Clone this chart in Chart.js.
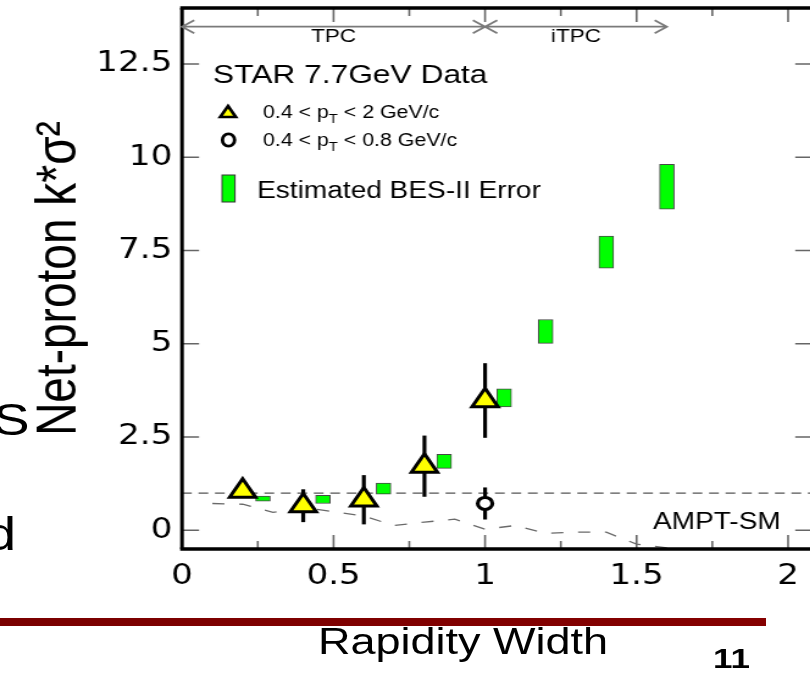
<!DOCTYPE html>
<html><head><meta charset="utf-8">
<script src="https://cdn.jsdelivr.net/npm/chart.js@4.4.1/dist/chart.umd.min.js"></script>
<style>
html,body{margin:0;padding:0;background:#fff;overflow:hidden;width:810px;height:673px;position:relative;}
#wrap{position:absolute;left:0;top:0;width:690px;height:673px;transform:scaleX(1.22);transform-origin:0 0;}
canvas{display:block;}
.slide{position:absolute;font-family:"Liberation Sans",Arial,sans-serif;color:#000;white-space:nowrap;transform-origin:0 0;}
</style></head><body>
<div id="wrap"><canvas id="c" width="690" height="673" style="width:690px;height:673px"></canvas></div>
<div id="redline" style="position:absolute;left:0;top:618px;width:766px;height:8px;background:linear-gradient(90deg,#7a0000,#850000);"></div>
<div class="slide" style="left:318px;top:623.5px;font-size:36px;line-height:36px;transform:scaleX(1.25);">Rapidity Width</div>
<div class="slide" style="left:713px;top:645px;font-size:28px;line-height:28px;font-weight:bold;transform:scaleX(1.25);">11</div>
<div class="slide" style="left:-7px;top:397px;font-size:45px;line-height:45px;transform:scaleX(1.22);">S</div>
<div class="slide" style="left:-15px;top:511px;font-size:46px;line-height:46px;transform:scaleX(1.22);">d</div>
<script>
// ---- data ----
const triX   = [0.2, 0.4, 0.6, 0.8, 1.0];
const triY   = [1.05, 0.66, 0.82, 1.72, 3.48];
const triErr = [0.10, 0.44, 0.66, 0.82, 1.00];

const circX   = [1.0];
const circY   = [0.72];
const circErr = [0.43];

const besX   = [0.267, 0.465, 0.665, 0.865, 1.063, 1.2, 1.4, 1.6];
const besY   = [0.85, 0.83, 1.12, 1.85, 3.55, 5.33, 7.46, 9.21];
const besErr = [0.07, 0.11, 0.15, 0.19, 0.24, 0.32, 0.43, 0.60];

const amptX = [0.1, 0.2, 0.3, 0.4, 0.5, 0.6, 0.7, 0.8, 0.9, 1.0, 1.1, 1.2, 1.3, 1.4, 1.5, 1.6];
const amptY = [0.72, 0.70, 0.48, 0.62, 0.50, 0.38, 0.13, 0.22, 0.30, 0.03, 0.13, -0.08, -0.05, -0.05, -0.37, -0.47];

const refX = [0, 2.1];
const refY = [1, 1];

const xTicks = [0, 0.5, 1, 1.5, 2];
const xMinorTicks = [0.25, 0.75, 1.25, 1.75];
const yTicks = [0, 2.5, 5, 7.5, 10, 12.5];
const xRange = [0, 2.1];
const yRange = [-0.5, 14];

const detectorRanges = [ {label: 'TPC', from: 0, to: 1}, {label: 'iTPC', from: 1, to: 1.6} ];
const arrowLevel = 13.5;

const yTitle = 'Net-proton k*\u03C3\u00B2';
const legendTitle = 'STAR 7.7GeV Data';
const modelLabel = 'AMPT-SM';

const FONT = '"Liberation Sans", Arial, sans-serif';

const pts = (xs, ys) => xs.map((x, i) => ({x, y: ys[i]}));

const deco = {
  id: 'deco',
  beforeDatasetDraw(chart, args) {
    const ds = chart.data.datasets[args.index];
    if (!ds.errY) return;
    const {ctx, scales: {x, y}} = chart;
    ctx.save();
    ctx.strokeStyle = '#000';
    ctx.lineWidth = 3.2;
    ds.data.forEach((p, i) => {
      const px = x.getPixelForValue(p.x);
      ctx.beginPath();
      ctx.moveTo(px, y.getPixelForValue(p.y - ds.errY[i]));
      ctx.lineTo(px, y.getPixelForValue(p.y + ds.errY[i]));
      ctx.stroke();
    });
    ctx.restore();
  },
  afterDatasetsDraw(chart) {
    const {ctx, chartArea: a, scales: {x, y}} = chart;
    ctx.save();
    // ticks
    ctx.strokeStyle = '#666';
    ctx.lineWidth = 1.6;
    const xt = (v, len) => {
      const px = x.getPixelForValue(v);
      ctx.beginPath();
      ctx.moveTo(px, a.bottom); ctx.lineTo(px, a.bottom - len);
      ctx.moveTo(px, a.top); ctx.lineTo(px, a.top + len);
      ctx.stroke();
    };
    xTicks.forEach(v => xt(v, 14));
    xMinorTicks.forEach(v => xt(v, 8));
    ctx.lineWidth = 1.5;
    yTicks.forEach(v => {
      const py = y.getPixelForValue(v);
      ctx.beginPath();
      ctx.moveTo(a.left, py); ctx.lineTo(a.left + 14, py);
      ctx.moveTo(a.right, py); ctx.lineTo(a.right - 19, py);
      ctx.stroke();
    });
    // frame
    ctx.strokeStyle = '#000';
    ctx.lineWidth = 3.4;
    ctx.beginPath();
    ctx.moveTo(a.left - 1.5, a.bottom); ctx.lineTo(a.right + 1.5, a.bottom);
    ctx.moveTo(a.left - 1.5, a.top); ctx.lineTo(a.right + 1.5, a.top);
    ctx.stroke();
    ctx.lineWidth = 3;
    ctx.beginPath();
    ctx.moveTo(a.left, a.top); ctx.lineTo(a.left, a.bottom);
    ctx.moveTo(a.right, a.top); ctx.lineTo(a.right, a.bottom);
    ctx.stroke();

    // detector arrows
    const ay = y.getPixelForValue(arrowLevel);
    ctx.strokeStyle = '#7a7a7a';
    ctx.lineWidth = 1.8;
    ctx.fillStyle = '#000';
    ctx.font = '18.5px ' + FONT;
    ctx.textAlign = 'center';
    ctx.textBaseline = 'alphabetic';
    detectorRanges.forEach(r => {
      const x0 = x.getPixelForValue(r.from), x1 = x.getPixelForValue(r.to);
      ctx.beginPath();
      ctx.moveTo(x0, ay); ctx.lineTo(x1, ay);
      ctx.moveTo(x0 + 10, ay - 6.5); ctx.lineTo(x0, ay); ctx.lineTo(x0 + 10, ay + 6.5);
      ctx.moveTo(x1 - 10, ay - 6.5); ctx.lineTo(x1, ay); ctx.lineTo(x1 - 10, ay + 6.5);
      ctx.stroke();
      ctx.fillText(r.label, x.getPixelForValue((r.from + r.to) / 2), ay + 15.5);
    });

    // model label
    ctx.textAlign = 'left';
    ctx.font = '23px ' + FONT;
    ctx.fillText(modelLabel, 535.2, 529);

    // legend
    ctx.font = '26px ' + FONT;
    ctx.fillText(legendTitle, 174.6, 83);
    // triangle
    ctx.beginPath();
    ctx.moveTo(186.9, 106); ctx.lineTo(193.3, 117); ctx.lineTo(180.5, 117); ctx.closePath();
    ctx.fillStyle = '#ffff00'; ctx.fill();
    ctx.strokeStyle = '#000'; ctx.lineWidth = 2.6; ctx.stroke();
    // circle
    ctx.beginPath();
    ctx.ellipse(187.3, 140, 5, 6.2, 0, 0, Math.PI * 2);
    ctx.fillStyle = '#fff'; ctx.fill();
    ctx.lineWidth = 2.8; ctx.stroke();
    // green box
    ctx.fillStyle = '#00ff00';
    ctx.fillRect(182, 175, 10.6, 27);
    ctx.strokeStyle = '#333'; ctx.lineWidth = 1;
    ctx.strokeRect(182, 175, 10.6, 27);
    ctx.fillStyle = '#000';
    const ptText = (x0, base, pre, post) => {
      ctx.font = '17.5px ' + FONT;
      ctx.fillText(pre, x0, base);
      let w = ctx.measureText(pre).width;
      ctx.font = '12px ' + FONT;
      ctx.fillText('T', x0 + w, base + 4.5);
      w += ctx.measureText('T').width;
      ctx.font = '17.5px ' + FONT;
      ctx.fillText(post, x0 + w, base);
    };
    ptText(215.6, 118, '0.4 < p', ' < 2 GeV/c');
    ptText(215.6, 146, '0.4 < p', ' < 0.8 GeV/c');
    ctx.font = '23px ' + FONT;
    ctx.fillText('Estimated BES-II Error', 210.7, 198);
    ctx.restore();
  }
};

const noPad = s => { s.paddingTop = 0; s.paddingBottom = 0; s.paddingLeft = 0; s.paddingRight = 0; };

new Chart(document.getElementById('c'), {
  type: 'scatter',
  data: {
    datasets: [
      {
        label: '0.4 < pT < 2 GeV/c',
        data: pts(triX, triY),
        errY: triErr,
        pointStyle: 'triangle',
        pointRadius: 12.3,
        pointBackgroundColor: '#ffff00',
        pointBorderColor: '#000',
        pointBorderWidth: 3,
        order: 1
      },
      {
        label: '0.4 < pT < 0.8 GeV/c',
        data: pts(circX, circY),
        errY: circErr,
        pointStyle: 'circle',
        pointRadius: 6,
        pointBackgroundColor: '#fff',
        pointBorderColor: '#000',
        pointBorderWidth: 3.2,
        order: 2
      },
      {
        type: 'bar',
        label: 'Estimated BES-II Error',
        data: besX.map((x, i) => ({x, y: [besY[i] - besErr[i], besY[i] + besErr[i]]})),
        backgroundColor: '#00ff00',
        borderColor: 'rgba(40,40,40,0.85)',
        borderWidth: 1,
        borderSkipped: false,
        barThickness: 12,
        grouped: false,
        order: 3
      },
      {
        type: 'line',
        label: 'AMPT-SM',
        data: pts(amptX, amptY),
        borderColor: '#6a6a6a',
        borderWidth: 1.3,
        borderDash: [10, 12],
        pointRadius: 0,
        tension: 0,
        fill: false,
        order: 4
      },
      {
        type: 'line',
        label: 'unity',
        data: pts(refX, refY),
        borderColor: '#555',
        borderWidth: 1.3,
        borderDash: [8, 5.5],
        pointRadius: 0,
        fill: false,
        order: 5
      }
    ]
  },
  options: {
    responsive: false,
    animation: false,
    devicePixelRatio: 1,
    events: [],
    layout: {autoPadding: false, padding: {left: 0, right: 19.2, top: 8, bottom: 0}},
    plugins: {legend: {display: false}, tooltip: {enabled: false}},
    scales: {
      x: {
        type: 'linear',
        min: xRange[0], max: xRange[1],
        offset: false,
        grid: {display: false, drawTicks: false},
        border: {display: false},
        afterBuildTicks: s => { s.ticks = xTicks.map(v => ({value: v})); },
        afterFit: s => { s.height = 124; noPad(s); },
        ticks: {
          padding: 11, maxRotation: 0, autoSkip: false, color: '#000',
          font: {family: '"DejaVu Sans", sans-serif', size: 28},
          callback: v => String(v)
        }
      },
      y: {
        type: 'linear',
        min: yRange[0], max: yRange[1],
        grid: {display: false, drawTicks: false},
        border: {display: false},
        afterBuildTicks: s => { s.ticks = yTicks.map(v => ({value: v})); },
        afterFit: s => { s.width = 149.2; noPad(s); },
        ticks: {
          padding: 8, color: '#000',
          font: {family: '"DejaVu Sans", sans-serif', size: 28},
          callback: v => String(v)
        },
        title: {
          display: true, text: yTitle, color: '#000',
          font: {family: FONT, size: 46},
          padding: {top: 22, bottom: 0}
        }
      }
    }
  },
  plugins: [deco]
});
</script>
</body></html>
